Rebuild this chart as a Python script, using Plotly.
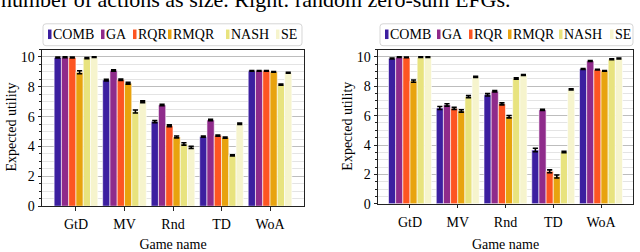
import plotly.graph_objects as go
from plotly.subplots import make_subplots

# ---------------- data ----------------
games = ["GtD", "MV", "Rnd", "TD", "WoA"]
series = ["COMB", "GA", "RQR", "RMQR", "NASH", "SE"]
colors = ["#3c1fa0", "#8f2b8b", "#fd5522", "#e8a30e", "#e8e37e", "#f6f4cd"]

# Left panel (values per series across games)
left_COMB = [9.97, 8.45, 5.67, 4.66, 9.07]
left_GA = [9.99, 9.09, 6.78, 5.78, 9.07]
left_RQR = [9.97, 8.47, 5.39, 4.73, 9.07]
left_RMQR = [8.98, 8.24, 4.64, 4.60, 9.00]
left_NASH = [9.93, 6.35, 4.17, 3.40, 8.15]
left_SE = [9.99, 7.00, 3.94, 5.52, 8.94]

left_err_COMB = [0.03, 0.05, 0.07, 0.04, 0.02]
left_err_GA = [0.03, 0.05, 0.05, 0.05, 0.02]
left_err_RQR = [0.03, 0.05, 0.06, 0.04, 0.02]
left_err_RMQR = [0.10, 0.06, 0.06, 0.04, 0.02]
left_err_NASH = [0.04, 0.10, 0.08, 0.04, 0.04]
left_err_SE = [0.02, 0.06, 0.07, 0.05, 0.03]

# Right panel
right_COMB = [9.89, 6.52, 7.42, 3.66, 9.18]
right_GA = [9.98, 6.73, 7.66, 6.39, 9.72]
right_RQR = [9.96, 6.49, 6.80, 2.21, 9.13]
right_RMQR = [8.35, 6.32, 5.93, 1.86, 9.05]
right_NASH = [9.98, 7.29, 8.53, 3.53, 9.83]
right_SE = [9.98, 8.64, 8.77, 7.79, 9.89]

right_err_COMB = [0.03, 0.10, 0.08, 0.12, 0.03]
right_err_GA = [0.02, 0.08, 0.05, 0.04, 0.03]
right_err_RQR = [0.02, 0.07, 0.07, 0.10, 0.02]
right_err_RMQR = [0.08, 0.08, 0.08, 0.10, 0.02]
right_err_NASH = [0.02, 0.07, 0.05, 0.05, 0.03]
right_err_SE = [0.02, 0.04, 0.03, 0.04, 0.03]

caption = "number of actions as size. Right: random zero-sum EFGs."
x_title = "Game name"
y_title = "Expected utility"
y_ticks = [0, 2, 4, 6, 8, 10]

left_vals = [left_COMB, left_GA, left_RQR, left_RMQR, left_NASH, left_SE]
left_errs = [left_err_COMB, left_err_GA, left_err_RQR, left_err_RMQR, left_err_NASH, left_err_SE]
right_vals = [right_COMB, right_GA, right_RQR, right_RMQR, right_NASH, right_SE]
right_errs = [right_err_COMB, right_err_GA, right_err_RQR, right_err_RMQR, right_err_NASH, right_err_SE]

# ---------------- figure ----------------
W, H = 640, 252
FONT = "Liberation Serif, Times New Roman, serif"
FS = 14


def X(p):
    return p / W


def Y(p):
    return 1 - p / H


fig = make_subplots(rows=1, cols=2)

for col, (vals, errs) in enumerate([(left_vals, left_errs), (right_vals, right_errs)], start=1):
    for name, c, v, e in zip(series, colors, vals, errs):
        fig.add_trace(
            go.Bar(
                x=games, y=v, name=name, showlegend=False,
                marker=dict(color=c, line=dict(color="white", width=0.6)),
                error_y=dict(type="data", array=e, color="black", thickness=1.6, width=2.6),
            ),
            row=1, col=col,
        )

fig.update_layout(
    width=W, height=H,
    margin=dict(l=0, r=0, t=0, b=0),
    paper_bgcolor="white", plot_bgcolor="white",
    barmode="group", bargap=0.1, bargroupgap=0.0,
    font=dict(family=FONT, size=FS, color="black"),
)

axis_common_x = dict(
    showline=True, linecolor="#222", linewidth=1, mirror=True,
    ticks="outside", ticklen=3.5, tickwidth=1, tickcolor="#222",
    showgrid=False, tickfont=dict(size=FS, family=FONT),
    ticklabelstandoff=2,
    title=dict(text=x_title, font=dict(size=FS, family=FONT), standoff=10),
)
axis_common_y = dict(
    showline=True, linecolor="#222", linewidth=1, mirror=True,
    ticks="outside", ticklen=3.5, tickwidth=1, tickcolor="#222",
    tickvals=y_ticks, range=[0, 10.5],
    showgrid=True, gridcolor="#bdbdbd", gridwidth=1,
    zeroline=False,
    minor=dict(dtick=0.5, tick0=0, ticks="outside", ticklen=2, tickcolor="#222",
               showgrid=True, gridcolor="#e4e4e4", gridwidth=1),
    tickfont=dict(size=FS, family=FONT),
)

fig.update_xaxes(**axis_common_x)
fig.update_yaxes(**axis_common_y)

fig.update_layout(
    xaxis=dict(domain=[X(42), X(304)], range=[-0.7, 4.7]),
    yaxis=dict(domain=[Y(216.5), Y(52)]),
    xaxis2=dict(domain=[X(378), X(633)], range=[-0.67, 4.67]),
    yaxis2=dict(domain=[Y(214), Y(52)]),
)

# y-axis titles
for px, py in [(12, 134), (348, 133)]:
    fig.add_annotation(text=y_title, xref="paper", yref="paper", x=X(px), y=Y(py),
                       xanchor="center", yanchor="middle", textangle=-90, showarrow=False,
                       font=dict(size=FS, family=FONT, color="black"))

# caption text at top (clipped)
fig.add_annotation(
    text=caption, xref="paper", yref="paper", x=X(-1), y=Y(15),
    xanchor="left", yanchor="bottom", showarrow=False,
    font=dict(size=22, family=FONT, color="black"),
)

# ---------------- manual legends ----------------
def rounded_rect(x0, y0, x1, y1, r=3):
    def P(px, py):
        return f"{X(px):.5f},{Y(py):.5f}"
    return (
        f"M {P(x0 + r, y0)} L {P(x1 - r, y0)} Q {P(x1, y0)} {P(x1, y0 + r)} "
        f"L {P(x1, y1 - r)} Q {P(x1, y1)} {P(x1 - r, y1)} "
        f"L {P(x0 + r, y1)} Q {P(x0, y1)} {P(x0, y1 - r)} "
        f"L {P(x0, y0 + r)} Q {P(x0, y0)} {P(x0 + r, y0)} Z"
    )


legend_boxes = [(43, 25, 302, 48), (380, 25, 633, 48)]
legend_item_x = [
    [48, 101, 133, 168, 226, 276],
    [385, 437, 469, 508, 559, 610],
]
for (bx0, by0, bx1, by1), xs in zip(legend_boxes, legend_item_x):
    fig.add_shape(type="path", path=rounded_rect(bx0, by0, bx1, by1), xref="paper", yref="paper",
                  line=dict(color="#d6d6d6", width=1), fillcolor="white", layer="above")
    for name, c, sx in zip(series, colors, xs):
        fig.add_shape(type="rect", xref="paper", yref="paper",
                      x0=X(sx), x1=X(sx + 3.5), y0=Y(41), y1=Y(31),
                      line=dict(width=0), fillcolor=c, layer="above")
        fig.add_annotation(text=name, xref="paper", yref="paper", x=X(sx + 3.5), y=Y(36.5),
                           xanchor="left", yanchor="middle", showarrow=False,
                           font=dict(size=FS, family=FONT, color="black"), borderpad=0)

fig.write_html("out.html", config={"displayModeBar": False},
               post_script="document.body.style.margin='0';")
